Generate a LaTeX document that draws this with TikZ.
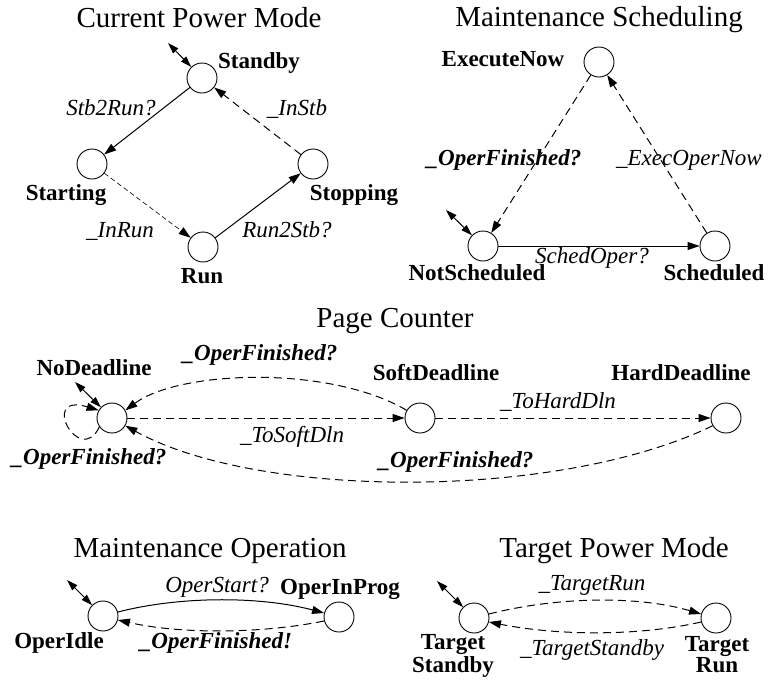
\documentclass[tikz,border=0pt]{standalone}
\usepackage{fontspec}
\setmainfont{Liberation Serif}
\usetikzlibrary{arrows.meta}
\begin{document}
\begin{tikzpicture}[x=1pt, y=-1pt,
  state/.style={circle, draw, line width=0.9pt, minimum size=30pt, inner sep=0pt},
  title/.style={anchor=base, font=\fontsize{29}{30}\selectfont},
  lbl/.style={anchor=base, font=\fontsize{23}{21}\selectfont\bfseries, inner sep=0pt},
  elbl/.style={anchor=base, font=\fontsize{23}{25}\selectfont\itshape, inner sep=0pt},
  eblbl/.style={anchor=base, font=\fontsize{23}{25}\selectfont\bfseries\itshape, inner sep=0pt},
  tipped/.style={-{Triangle[length=12pt,width=8pt]}},
  trans/.style={line width=1pt, tipped},
  dtrans/.style={line width=1pt, tipped, dash pattern=on 8pt off 5pt},
  thintrans/.style={line width=0.6pt, tipped, dash pattern=on 5pt off 3pt},
  init/.style={line width=1pt, {Triangle[length=11pt,width=7pt]}-{Triangle[length=11pt,width=7pt]}}
]
\useasboundingbox (0,0) rectangle (768,686);

% ---------------- Current Power Mode ----------------
\node[title] (t1) at (199,27) {Current Power Mode};
\node[state] (sb) at (202,78) {};
\node[state] (st) at (92,164) {};
\node[state] (sp) at (313,164) {};
\node[state] (rn) at (203,247) {};
\node[lbl] (sbL) at (259,68) {Standby};
\node[lbl] (stL) at (66,200) {Starting};
\node[lbl] (spL) at (354,200) {Stopping};
\node[lbl] (rnL) at (202,283) {Run};
\coordinate (sbI) at (168,43);
\draw[init] (sbI) -- (sb);
\draw[trans] (sb) -- (st);
\draw[dtrans] (sp) -- (sb);
\draw[thintrans] (st) -- (rn);
\draw[trans] (rn) -- (sp);
\node[elbl] (e1) at (111,115) {Stb2Run?};
\node[elbl] (e2) at (297,115) {\_InStb};
\node[elbl] (e3) at (120,237) {\_InRun};
\node[elbl] (e4) at (287,237) {Run2Stb?};

% ---------------- Maintenance Scheduling ----------------
\node[title] (t2) at (599,26) {Maintenance Scheduling};
\node[state] (en) at (599,62) {};
\node[state] (ns) at (483,246) {};
\node[state] (sc) at (715,246) {};
\node[lbl] (enL) at (503,66) {ExecuteNow};
\node[lbl] (nsL) at (477,280) {NotScheduled};
\node[lbl] (scL) at (714,280) {Scheduled};
\coordinate (nsI) at (446,210);
\draw[init] (nsI) -- (ns);
\draw[dtrans] (en) -- (ns);
\draw[dtrans] (sc) -- (en);
\draw[trans] (ns) -- (sc);
\node[eblbl] (e5) at (504,165) {\_OperFinished?};
\node[elbl] (e6) at (689,165) {\_ExecOperNow};
\node[elbl] (e7) at (592,263) {SchedOper?};

% ---------------- Page Counter ----------------
\node[title] (t3) at (395,327) {Page Counter};
\node[state] (nd) at (112,418) {};
\node[state] (sd) at (420,418) {};
\node[state] (hd) at (726,418) {};
\node[lbl] (ndL) at (94,375) {NoDeadline};
\node[lbl] (sdL) at (436,380) {SoftDeadline};
\node[lbl] (hdL) at (681,380) {HardDeadline};
\coordinate (ndI) at (75,382);
\draw[init] (ndI) -- (nd);
\draw[dtrans] (nd.215) .. controls (80,468) and (38,392) .. (nd.150);
\draw[dtrans] (sd.150) .. controls (330,365) and (180,370) .. (nd.30);
\draw[dtrans] (nd) -- (sd);
\draw[dtrans] (sd) -- (hd);
\draw[dtrans] (hd.210) .. controls (560,500) and (260,500) .. (nd.-30);
\node[eblbl] (e8) at (260,360) {\_OperFinished?};
\node[elbl] (e9) at (292,442) {\_ToSoftDln};
\node[elbl] (e10) at (558,408) {\_ToHardDln};
\node[eblbl] (e11) at (456,467) {\_OperFinished?};
\node[eblbl] (e12) at (89,464) {\_OperFinished?};

% ---------------- Maintenance Operation ----------------
\node[title] (t4) at (210,557) {Maintenance Operation};
\node[state] (oi) at (103,616) {};
\node[state] (op) at (339,617) {};
\node[lbl] (oiL) at (59,648) {OperIdle};
\node[lbl] (opL) at (340,594) {OperInProg};
\coordinate (oiI) at (67,580);
\draw[init] (oiI) -- (oi);
\draw[trans] (oi.15) .. controls (180,596) and (260,596) .. (op.165);
\draw[dtrans] (op.195) .. controls (260,634) and (180,634) .. (oi.-15);
\node[elbl] (e13) at (217,592) {OperStart?};
\node[eblbl] (e14) at (216,648) {\_OperFinished!};

% ---------------- Target Power Mode ----------------
\node[title] (t5) at (614,557) {Target Power Mode};
\node[state] (ts) at (474,618) {};
\node[state] (tr) at (716,618) {};
\node[lbl, align=center] (tsL) at (453,672) {Target\\Standby};
\node[lbl, align=center] (trL) at (717,672) {Target\\Run};
\coordinate (tsI) at (437,581);
\draw[init] (tsI) -- (ts);
\draw[dtrans] (ts.15) .. controls (560,596) and (640,596) .. (tr.165);
\draw[dtrans] (tr.195) .. controls (640,636) and (560,636) .. (ts.-15);
\node[elbl] (e15) at (592,590) {\_TargetRun};
\node[elbl] (e16) at (592,655) {\_TargetStandby};
\end{tikzpicture}
\end{document}
